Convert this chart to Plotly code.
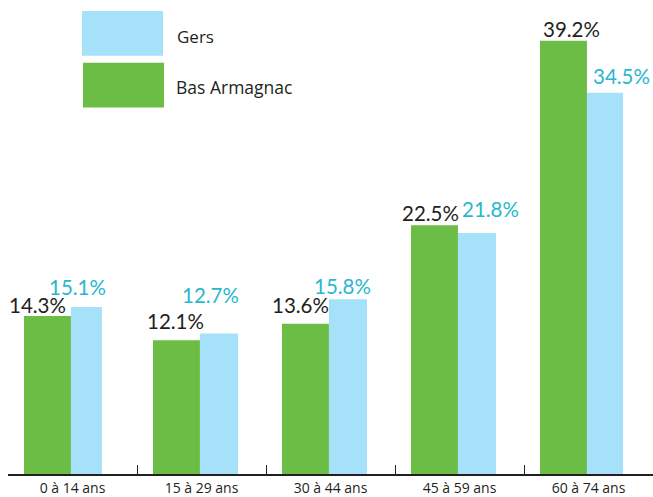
import plotly.graph_objects as go

categories = ["0 à 14 ans", "15 à 29 ans", "30 à 44 ans", "45 à 59 ans", "60 à 74 ans"]
bas_armagnac = [14.3, 12.1, 13.6, 22.5, 39.2]
gers = [15.1, 12.7, 15.8, 21.8, 34.5]
series_names = ["Gers", "Bas Armagnac"]

GREEN = "#6cbd45"
BLUE = "#a5e1f8"
DARK = "#231f20"
CYAN = "#29b7cd"

W, H = 653, 497
ML, MR, MT, MB = 8, 0, 0, 21
PX_PER_UNIT = 11.1
plot_h = H - MT - MB
ymax = plot_h / PX_PER_UNIT

fig = go.Figure()
fig.add_trace(go.Bar(
    x=categories, y=bas_armagnac, name=series_names[1],
    marker=dict(color=GREEN, line=dict(width=0)),
    offset=-0.376, width=0.364, showlegend=False,
))
fig.add_trace(go.Bar(
    x=categories, y=gers, name=series_names[0],
    marker=dict(color=BLUE, line=dict(width=0)),
    offset=-0.012, width=[0.24, 0.295, 0.295, 0.295, 0.28], showlegend=False,
))

# value labels
green_dx = [-35.5, -26.5, -30.5, -29.5, -17.5]
green_dy = [-3, 5, 5, -2, -2]
blue_dx = [4.5, 8.5, 11.5, 30.5, 32.5]
blue_dy = [6, 25, -1, 10, 3]
annotations = []
for i, v in enumerate(bas_armagnac):
    annotations.append(dict(
        x=i, y=v, xref="x", yref="y", text=f"{v:.1f}%", showarrow=False,
        xanchor="center", yanchor="bottom", xshift=green_dx[i], yshift=green_dy[i],
        font=dict(family="Lato", size=20.5, color=DARK),
    ))
for i, v in enumerate(gers):
    annotations.append(dict(
        x=i, y=v, xref="x", yref="y", text=f"{v:.1f}%", showarrow=False,
        xanchor="center", yanchor="bottom", xshift=blue_dx[i], yshift=blue_dy[i],
        font=dict(family="Lato", size=20.5, color=CYAN),
    ))

pw = W - ML - MR
def px_x(px):
    return (px - ML) / pw
def px_y(py):
    return (H - MB - py) / plot_h

# custom legend
shapes = [
    dict(type="rect", xref="paper", yref="paper", x0=px_x(82), x1=px_x(163),
         y0=px_y(56), y1=px_y(11), fillcolor=BLUE, line=dict(width=0)),
    dict(type="rect", xref="paper", yref="paper", x0=px_x(83), x1=px_x(164),
         y0=px_y(108), y1=px_y(63), fillcolor=GREEN, line=dict(width=0)),
]
annotations.append(dict(x=px_x(175), y=px_y(37), xref="paper", yref="paper",
                        text=series_names[0], showarrow=False, xanchor="left", yanchor="middle",
                        font=dict(family="Open Sans", size=17, color=DARK)))
annotations.append(dict(x=px_x(174), y=px_y(87), xref="paper", yref="paper",
                        text=series_names[1], showarrow=False, xanchor="left", yanchor="middle",
                        font=dict(family="Open Sans", size=17.5, color=DARK)))

fig.update_layout(
    width=W, height=H,
    margin=dict(l=ML, r=MR, t=MT, b=MB, pad=0),
    paper_bgcolor="white", plot_bgcolor="white",
    barmode="group",
    shapes=shapes,
    annotations=annotations,
    xaxis=dict(
        type="category", range=[-0.5, 4.5], tickson="boundaries",
        ticks="inside", ticklen=9, tickwidth=1.2, tickcolor=DARK,
        showline=True, linecolor=DARK, linewidth=1.5,
        showgrid=False, zeroline=False,
        tickfont=dict(family="Open Sans", size=14, color=DARK),
    ),
    yaxis=dict(range=[0, ymax], visible=False, showgrid=False, zeroline=False),
)

fig.write_html(
    "out.html",
    config={"displayModeBar": False},
    post_script="document.body.style.margin='0';document.body.style.padding='0';document.body.style.overflow='hidden';",
)
